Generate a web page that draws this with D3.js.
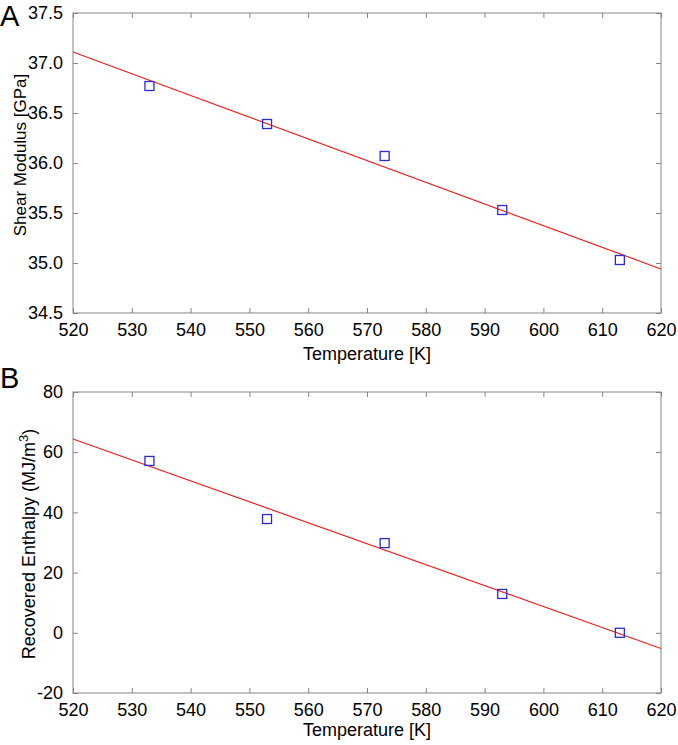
<!DOCTYPE html>
<html><head><meta charset="utf-8">
<script src="https://cdn.jsdelivr.net/npm/d3@7"></script>
<style>
body{margin:0;background:#fff;}
text{font-family:"Liberation Sans",Arial,Helvetica,sans-serif;}
</style></head>
<body>
<svg id="chart" width="678" height="745"></svg>
<script>
// Data
const temperatures = [533, 553, 573, 593, 613];
const shearModulus = [36.77, 36.39, 36.07, 35.53, 35.03];
const enthalpy = [57.1, 37.8, 29.8, 12.9, 0.0];
const fitTemps = [520, 620];
const fitShear = [37.11, 34.94];
const fitEnthalpy = [64.4, -5.2];
const xTicks = [520, 530, 540, 550, 560, 570, 580, 590, 600, 610, 620];
const yTicksA = [34.5, 35.0, 35.5, 36.0, 36.5, 37.0, 37.5];
const yTicksB = [-20, 0, 20, 40, 60, 80];

const svg = d3.select("#chart");
const axisColor = "#858585";
const fs = 18;
const fmt = f => d => d3.format(f)(d).replace("\u2212", "-");

function panel(opts) {
  const {left, right, top, bottom, yDomain, yTicks, yFmt, ys, fit, letter, letterY, ylabel, ylabelX, ylabelY, ylabelFs, xlabelY} = opts;
  const x = d3.scaleLinear().domain([520, 620]).range([left, right]);
  const y = d3.scaleLinear().domain(yDomain).range([bottom, top]);
  const g = svg.append("g");

  g.append("rect").attr("x", left).attr("y", top).attr("width", right - left).attr("height", bottom - top)
    .attr("fill", "none").attr("stroke", axisColor).attr("stroke-width", 1);

  const styleAxis = sel => {
    sel.select(".domain").remove();
    sel.selectAll(".tick line").attr("stroke", axisColor);
    sel.selectAll(".tick text").attr("fill", "#000").style("font-size", fs + "px")
      .style("font-family", '"Liberation Sans",Arial,sans-serif');
  };

  g.append("g").attr("transform", `translate(0,${bottom})`)
    .call(d3.axisBottom(x).tickValues(xTicks).tickSizeInner(-5).tickSizeOuter(0).tickPadding(10).tickFormat(fmt("d")))
    .call(styleAxis);
  g.append("g").attr("transform", `translate(0,${top})`)
    .call(d3.axisTop(x).tickValues(xTicks).tickSizeInner(-5).tickSizeOuter(0).tickFormat(""))
    .call(styleAxis);
  g.append("g").attr("transform", `translate(${left},0)`)
    .call(d3.axisLeft(y).tickValues(yTicks).tickSizeInner(-5).tickSizeOuter(0).tickPadding(10).tickFormat(fmt(yFmt)))
    .call(styleAxis);
  g.append("g").attr("transform", `translate(${right},0)`)
    .call(d3.axisRight(y).tickValues(yTicks).tickSizeInner(-5).tickSizeOuter(0).tickFormat(""))
    .call(styleAxis);

  const line = d3.line().x((d, i) => x(fitTemps[i])).y(d => y(d));
  g.append("path").datum(fit).attr("d", line).attr("fill", "none")
    .attr("stroke", "#e8221e").attr("stroke-width", 1.2);

  const s = 9;
  g.selectAll("rect.pt").data(ys).enter().append("rect").attr("class", "pt")
    .attr("x", (d, i) => x(temperatures[i]) - s / 2).attr("y", d => y(d) - s / 2)
    .attr("width", s).attr("height", s).attr("fill", "none")
    .attr("stroke", "#2b2bd0").attr("stroke-width", 1.3);

  g.append("text").attr("x", (left + right) / 2).attr("y", xlabelY)
    .attr("text-anchor", "middle").style("font-size", fs + "px").text("Temperature [K]");

  const yl = g.append("text").attr("transform", `translate(${ylabelX},${ylabelY}) rotate(-90)`)
    .attr("text-anchor", "middle").style("font-size", ylabelFs + "px");
  ylabel(yl);

  g.append("text").attr("x", 0).attr("y", letterY).style("font-size", "29px").text(letter);
}

panel({left: 73, right: 661, top: 13, bottom: 313, yDomain: [34.5, 37.5], yTicks: yTicksA, yFmt: ".1f",
  ys: shearModulus, fit: fitShear, letter: "A", letterY: 26, ylabelX: 26, ylabelY: 155, ylabelFs: 17, xlabelY: 360,
  ylabel: t => t.text("Shear Modulus [GPa]")});

panel({left: 73, right: 661, top: 392, bottom: 693, yDomain: [-20, 80], yTicks: yTicksB, yFmt: "d",
  ys: enthalpy, fit: fitEnthalpy, letter: "B", letterY: 388, ylabelX: 35, ylabelY: 544, ylabelFs: 18, xlabelY: 736,
  ylabel: t => {
    t.append("tspan").text("Recovered Enthalpy (MJ/m");
    t.append("tspan").attr("baseline-shift", "super").style("font-size", "13px").text("3");
    t.append("tspan").text(")");
  }});
</script>
</body></html>
